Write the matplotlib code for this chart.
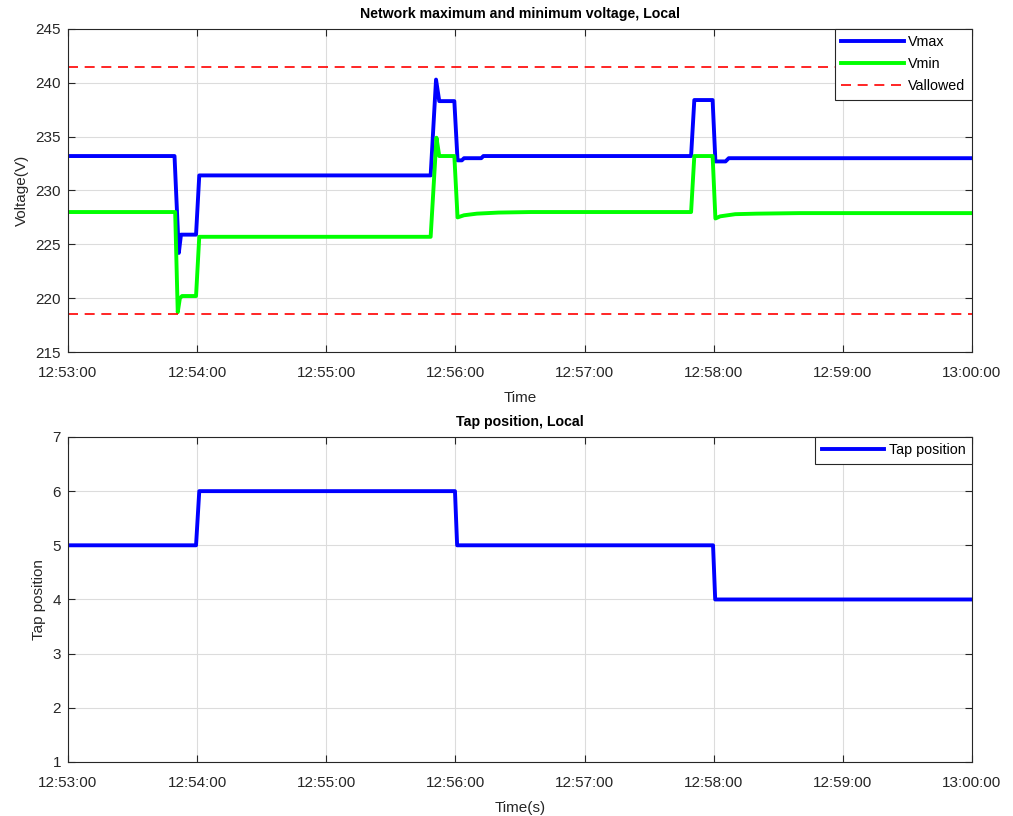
import datetime

import matplotlib
matplotlib.use("Agg")
import matplotlib.pyplot as plt
import matplotlib.dates as mdates

plt.rcParams['font.family'] = ['Liberation Sans', 'DejaVu Sans']

# Время в секундах от 12:53:00
START_TIME = datetime.datetime(2020, 1, 1, 12, 53, 0)

vmax_t = [0, 49.5, 51.5, 52.5, 59.5, 61, 168.5, 171, 172.5, 179.5, 181, 183, 184, 192, 193,
          289.5, 291, 299.5, 300.8, 305.5, 307, 420]
vmax_v = [233.2, 233.2, 224.2, 225.9, 225.9, 231.4, 231.4, 240.3, 238.3, 238.3, 232.8, 232.8, 233.0,
          233.0, 233.2, 233.2, 238.4, 238.4, 232.7, 232.7, 233.0, 233.0]

vmin_t = [0, 49.8, 51, 52, 53, 59.5, 61, 168.5, 171.2, 172.5, 179.5, 181, 184, 190, 200, 215,
          289.5, 291, 299.5, 300.8, 303, 310, 320, 340, 420]
vmin_v = [228.0, 228.0, 218.7, 220.0, 220.2, 220.2, 225.7, 225.7, 234.9, 233.2, 233.2, 227.5, 227.7,
          227.85, 227.95, 228.0, 228.0, 233.2, 233.2, 227.4, 227.6, 227.8, 227.85, 227.9, 227.9]

v_upper = 241.5
v_lower = 218.5

tap_t = [0, 59.5, 61, 179.8, 180.8, 299.7, 300.7, 420]
tap_v = [5, 5, 6, 6, 5, 5, 4, 4]

x_ticks_min = [0, 1, 2, 3, 4, 5, 6, 7]

AX_COLOR = '#262626'


def to_dates(seconds):
    return [START_TIME + datetime.timedelta(seconds=s) for s in seconds]


def style_axes(ax):
    ax.grid(True, color='#dcdcdc', linewidth=0.8)
    ax.set_axisbelow(True)
    ax.tick_params(direction='in', length=5, colors=AX_COLOR, labelsize=11,
                   top=True, right=True)
    ax.tick_params(axis='x', pad=10)
    ax.tick_params(axis='y', pad=5)
    for sp in ax.spines.values():
        sp.set_color(AX_COLOR)
        sp.set_linewidth(0.8)
    ax.set_xticks(to_dates([m * 60 for m in x_ticks_min]))
    ax.xaxis.set_major_formatter(mdates.DateFormatter('%H:%M:%S'))
    ax.set_xlim(to_dates([0, 420]))


def add_legend(ax):
    leg = ax.legend(loc='upper right', fontsize=10.3, fancybox=False, edgecolor=AX_COLOR,
                    framealpha=1, borderaxespad=0, handlelength=4.4, handletextpad=0.3,
                    borderpad=0.45, labelspacing=0.55)
    leg.get_frame().set_linewidth(0.8)


fig = plt.figure(figsize=(10.13, 8.16), dpi=100)

# Напряжения
ax1 = fig.add_axes([0.0671, 0.5686, 0.8924, 0.3959])
ax1.plot(to_dates(vmax_t), vmax_v, color=(0, 0, 1), linewidth=2.8, label='Vmax')
ax1.plot(to_dates(vmin_t), vmin_v, color=(0, 1, 0), linewidth=2.8, label='Vmin')
ax1.axhline(v_upper, color=(1, 0, 0), linestyle=(0, (6, 4)), linewidth=1.2, label='Vallowed')
ax1.axhline(v_lower, color=(1, 0, 0), linestyle=(0, (6, 4)), linewidth=1.2)
ax1.set_ylim(215, 245)
ax1.set_yticks(range(215, 246, 5))
style_axes(ax1)
ax1.set_title('Network maximum and minimum voltage, Local', fontsize=10.2, fontweight='bold', pad=8)
ax1.set_xlabel('Time', fontsize=11, color=AX_COLOR, labelpad=8)
ax1.set_ylabel('Voltage(V)', fontsize=11, color=AX_COLOR, labelpad=5)
add_legend(ax1)

# Положение отпайки
ax2 = fig.add_axes([0.0671, 0.0662, 0.8924, 0.3983])
ax2.plot(to_dates(tap_t), tap_v, color=(0, 0, 1), linewidth=2.8, label='Tap position')
ax2.set_ylim(1, 7)
ax2.set_yticks(range(1, 8))
style_axes(ax2)
ax2.set_title('Tap position, Local', fontsize=10.2, fontweight='bold', pad=8)
ax2.set_xlabel('Time(s)', fontsize=11, color=AX_COLOR, labelpad=8)
ax2.set_ylabel('Tap position', fontsize=11, color=AX_COLOR, labelpad=5)
add_legend(ax2)

fig.savefig('out.png', dpi=100)
